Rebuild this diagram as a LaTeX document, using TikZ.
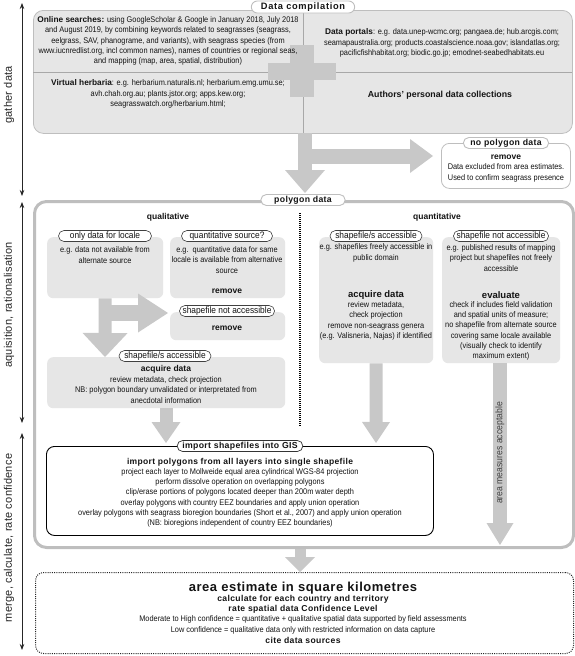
\documentclass[tikz,border=0pt]{standalone}
\usepackage{fontspec}
\setmainfont{Liberation Sans}
\newfontfamily\nar[FakeStretch=0.9]{Liberation Sans}
\newfontfamily\wide[LetterSpace=4]{Liberation Sans}
\newfontfamily\wider[LetterSpace=7]{Liberation Sans}
\newfontfamily\axfont[LetterSpace=2]{Liberation Sans}
\usetikzlibrary{arrows.meta,shapes.misc}
\definecolor{boxgray}{HTML}{E6E6E6}
\definecolor{arrgray}{HTML}{C8C8C8}
\definecolor{linegray}{HTML}{BEBEBE}
\definecolor{divgray}{HTML}{A8A8A8}
\definecolor{txt}{HTML}{141414}
\tikzset{
  body/.style={font=\nar\fontsize{8.2}{10.3}\selectfont, align=center, inner sep=0pt, text=txt},
  hd/.style={font=\bfseries\fontsize{8.5}{10}\selectfont, inner sep=0pt, text=txt},
  gbox/.style={fill=boxgray, rounded corners=6pt, anchor=north west, inner sep=0pt},
  smalltab/.style={rounded rectangle, draw=black!75, line width=0.6pt, fill=white, inner xsep=1pt, inner ysep=0pt, minimum height=11pt, font=\nar\fontsize{9.3}{9.5}\selectfont, text=txt},
  bigtab/.style={rounded rectangle, draw=linegray, line width=0.9pt, fill=white, inner ysep=0.5pt, minimum height=12pt, font=\wide\bfseries\fontsize{8.7}{10}\selectfont, text=txt},
  blk/.style={draw=arrgray, line width=#1},
  axis/.style={{Stealth[length=6pt,width=4.5pt]}-{Stealth[length=6pt,width=4.5pt]}, line width=0.8pt, draw=black!85},
  axlab/.style={rotate=90, font=\axfont\fontsize{11}{12}\selectfont, text=black!85, inner sep=0pt},
}
\begin{document}
\begin{tikzpicture}[x=1pt,y=-1pt]
\useasboundingbox (0,0) rectangle (575,656);

% ---------- left axis ----------
\coordinate (g1) at (22,3);   \coordinate (g2) at (22,196);
\coordinate (q1) at (22,202); \coordinate (q2) at (22,423);
\coordinate (m1) at (22,433); \coordinate (m2) at (22,650);
\draw[axis] (g1) -- (g2);
\draw[axis] (q1) -- (q2);
\draw[axis] (m1) -- (m2);
\node[axlab] (lg) at (9,95) {gather data};
\node[axlab] (lq) at (9,305) {aquisition, rationalisation};
\node[axlab] (lm) at (9,538) {merge, calculate, rate confidence};

% ---------- data compilation ----------
\node[fill=boxgray, draw=linegray, line width=0.8pt, rounded corners=10pt, minimum width=539pt, minimum height=123pt, anchor=north west, inner sep=0pt] (dc) at (33,10) {};
\draw[divgray, line width=0.6pt] (303,10) -- (303,133);
\draw[divgray, line width=0.6pt] (33,72) -- (572,72);
\fill[arrgray] (290,45) rectangle (314,97);
\fill[arrgray] (268,63) rectangle (336,80);

\node[body] (online) at (168,41) {{\normalfont\bfseries\fontsize{8.3}{10}\selectfont Online searches:} using GoogleScholar \& Google in January 2018, July 2018\\
and August 2019, by combining keywords related to seagrasses (seagrass,\\
eelgrass, SAV, phanograme, and variants), with seagrass species (from\\
www.iucnredlist.org, incl common names), names of countries or regional seas,\\
and mapping (map, area, spatial, distribution)};
\node[body] (portals) at (442,43) {{\normalfont\bfseries\fontsize{8.3}{10}\selectfont Data portals}: e.g. data.unep-wcmc.org; pangaea.de; hub.arcgis.com;\\
seamapaustralia.org; products.coastalscience.noaa.gov; islandatlas.org;\\
pacificfishhabitat.org; biodic.go.jp; emodnet-seabedhabitats.eu};
\node[body] (herb) at (168,94) {{\normalfont\bfseries\fontsize{8.3}{10}\selectfont Virtual herbaria}: e.g. herbarium.naturalis.nl; herbarium.emg.umu.se;\\
avh.chah.org.au; plants.jstor.org; apps.kew.org;\\
seagrasswatch.org/herbarium.html;};
\node[hd, font=\bfseries\fontsize{8.8}{10}\selectfont] (authors) at (440,95) {Authors' personal data collections};

\node[bigtab, font=\wider\bfseries\fontsize{9.3}{10}\selectfont, minimum width=110pt] (dctab) at (303,7) {Data compilation};

% ---------- arrows from data compilation ----------
\coordinate (a1s) at (305,133);
\coordinate (a1e) at (305,193);
\coordinate (a1b) at (305,156);
\coordinate (a1r) at (433,156);
\draw[blk=15pt, -{Triangle[width=34pt,length=23pt,line width=0pt]}] (a1b) -- (a1r);
\draw[blk=14pt, -{Triangle[width=40pt,length=23pt,line width=0pt]}] (a1s) -- (a1e);

% no polygon data
\node[fill=white, draw=linegray, line width=0.8pt, rounded corners=8pt, minimum width=129pt, minimum height=45pt, anchor=north west, inner sep=0pt] (nopoly) at (441,143) {};
\node[bigtab, minimum width=92pt, minimum height=11pt] (nptab) at (506,143) {no polygon data};
\node[hd] (nprem) at (506,157) {remove};
\node[body] (nptxt) at (506,173) {Data excluded from area estimates.\\Used to confirm seagrass presence};

% ---------- final arrow (behind polygon box) ----------
\coordinate (a6s) at (300,540);
\coordinate (a6e) at (300,572);
\draw[blk=11pt, -{Triangle[width=30pt,length=15pt,line width=0pt]}] (a6s) -- (a6e);

% ---------- polygon data box ----------
\node[fill=white, draw=linegray, line width=3pt, rounded corners=12pt, minimum width=539pt, minimum height=346pt, anchor=north west, inner sep=0pt] (poly) at (33,200) {};
\node[bigtab, minimum width=91pt, minimum height=11pt] (ptab) at (303,200) {polygon data};

\node[hd] (qual) at (168,217) {qualitative};
\node[hd] (quant) at (437,217) {quantitative};
\draw[black, line width=1.2pt, dash pattern=on 1pt off 1pt] (300,213) -- (300,427);

% qualitative boxes
\node[gbox, minimum width=116pt, minimum height=61pt] (boxA) at (47,237) {};
\node[gbox, minimum width=115pt, minimum height=61pt] (boxB) at (170,237) {};
\node[gbox, minimum width=115pt, minimum height=28pt] (boxC) at (170,312) {};
\node[gbox, minimum width=238pt, minimum height=51pt] (boxD) at (47,357) {};

\node[body] (tA) at (105,255) {e.g. data not available from\\alternate source};
\node[body] (tB) at (227,260) {e.g.\ \ quantitative data for same\\locale is available from alternative\\source};
\node[hd] (rB) at (227,291) {remove};
\node[hd] (rC) at (227,328) {remove};
\node[hd] (acqD) at (166,369) {acquire data};
\node[body] (tD) at (166,390) {review metadata, check projection\\NB: polygon boundary unvalidated or interpretated from\\anecdotal information};

% quantitative boxes
\node[gbox, minimum width=114pt, minimum height=126pt] (boxE) at (319,237) {};
\node[gbox, minimum width=118pt, minimum height=126pt] (boxF) at (442,237) {};
\node[body] (tE1) at (376,253) {e.g. shapefiles freely accessible in\\public domain};
\node[hd, font=\bfseries\fontsize{9.5}{10}\selectfont] (acqE) at (376,295) {acquire data};
\node[body] (tE2) at (376,321) {review metadata,\\check projection\\remove non-seagrass genera\\(e.g. Valisneria, Najas) if identified};
\node[body] (tF1) at (501,258) {e.g. published results of mapping\\project but shapefiles not freely\\accessible};
\node[hd, font=\bfseries\fontsize{9.5}{10}\selectfont] (evF) at (501,295) {evaluate};
\node[body] (tF2) at (501,331) {check if includes field validation\\and spatial units of measure;\\no shapefile from alternate source\\covering same locale available\\(visually check to identify\\maximum extent)};

% arrows inside polygon box
\coordinate (a2b) at (105,313);
\coordinate (a2r) at (168,313);
\draw[blk=16pt, -{Triangle[width=39pt,length=30pt,line width=0pt]}] (a2b) -- (a2r);
\draw[blk=13pt, -{Triangle[width=45pt,length=24pt,line width=0pt]}] (boxA.south) -- (105,357);
\draw[blk=13pt, -{Triangle[width=29pt,length=21pt,line width=0pt]}] (boxD.south -| 166,0) -- (166,443);
\draw[blk=13pt, -{Triangle[width=28pt,length=21pt,line width=0pt]}] (boxE.south) -- (376,443);
\coordinate (a5s) at (500,363);
\coordinate (a5e) at (500,545);
\draw[blk=14pt, -{Triangle[width=27pt,length=22pt,line width=0pt]}] (a5s) -- (a5e);
\node[rotate=90, font=\nar\fontsize{9.6}{10}\selectfont, text=black!75, inner sep=0pt] (amac) at (500,453) {area measures acceptable};

% small tabs
\node[smalltab, minimum width=95pt] (tabA) at (105,236) {only data for locale};
\node[smalltab, minimum width=93pt] (tabB) at (227,236) {quantitative source?};
\node[smalltab, minimum width=93pt] (tabC) at (227,311) {shapefile not accessible};
\node[smalltab, minimum width=94pt] (tabD) at (165,356) {shapefile/s accessible};
\node[smalltab, minimum width=94pt] (tabE) at (376,236) {shapefile/s accessible};
\node[smalltab, minimum width=93pt] (tabF) at (501,236) {shapefile not accessible};

% ---------- import box ----------
\node[fill=white, draw=black, line width=0.9pt, rounded corners=8pt, minimum width=387pt, minimum height=89pt, anchor=north west, inner sep=0pt] (imp) at (46,446) {};
\node[bigtab, draw=black!80, line width=0.7pt, minimum width=116pt, minimum height=11pt] (imptab) at (240,446) {import shapefiles into GIS};
\node[hd, font=\wide\bfseries\fontsize{8.5}{10}\selectfont] (impt) at (240,462) {import polygons from all layers into single shapefile};
\node[body] (impb) at (240,498) {project each layer to Mollweide equal area cylindrical WGS-84 projection\\
perform dissolve operation on overlapping polygons\\
clip/erase portions of polygons located deeper than 200m water depth\\
overlay polygons with country EEZ boundaries and apply union operation\\
overlay polygons with seagrass bioregion boundaries (Short et al., 2007) and apply union operation\\
(NB: bioregions independent of country EEZ boundaries)};

% ---------- final box ----------
\node[draw=black!85, line width=1pt, dash pattern=on 1pt off 1.2pt, rounded corners=8pt, minimum width=538pt, minimum height=81pt, anchor=north west, inner sep=0pt] (fin) at (35,572) {};
\node[hd, font=\wide\bfseries\fontsize{13}{14}\selectfont] (f1) at (303,588) {area estimate in square kilometres};
\node[hd, font=\wide\bfseries\fontsize{8.6}{10}\selectfont] (f2) at (303,599) {calculate for each country and territory};
\node[hd, font=\wide\bfseries\fontsize{8.6}{10}\selectfont] (f3) at (303,609) {rate spatial data Confidence Level};
\node[body] (f4) at (303,625) {Moderate to High confidence = quantitative + qualitative spatial data supported by field assessments\\Low confidence = qualitative data only with restricted information on data capture};
\node[hd, font=\wide\bfseries\fontsize{8.6}{10}\selectfont] (f5) at (303,640) {cite data sources};
\end{tikzpicture}
\end{document}
